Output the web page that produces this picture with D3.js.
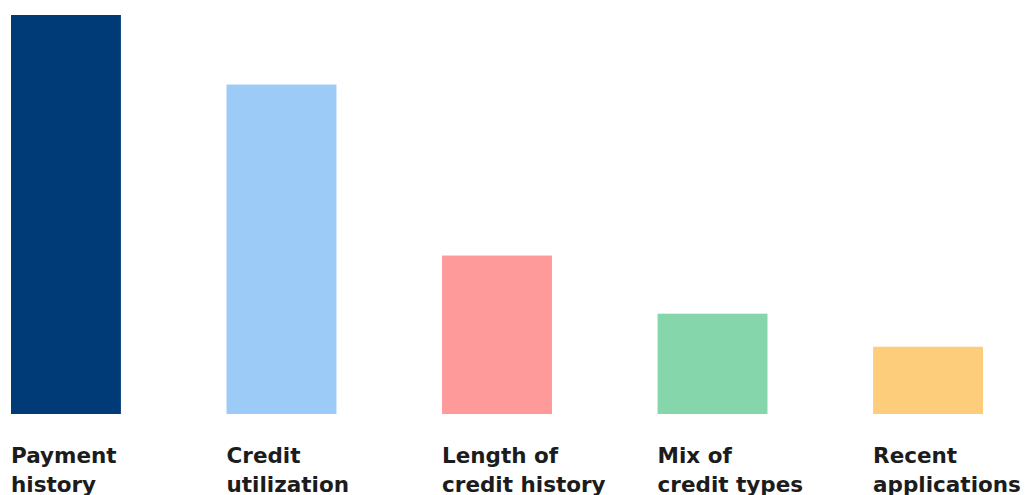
<!DOCTYPE html>
<html>
<head>
<meta charset="utf-8">
<script src="https://cdn.jsdelivr.net/npm/d3@7"></script>
<style>
  html, body { margin: 0; padding: 0; background: #fff; }
  svg { display: block; }
</style>
</head>
<body>
<div id="chart"></div>
<script>
var categories = ['Payment history', 'Credit utilization', 'Length of credit history', 'Mix of credit types', 'Recent applications'];
var labelLines = [['Payment', 'history'], ['Credit', 'utilization'], ['Length of', 'credit history'], ['Mix of', 'credit types'], ['Recent', 'applications']];
var values = [35, 28.9, 13.9, 8.8, 5.9];
var colors = ['#003b77', '#9dcbf8', '#fe9a9a', '#85d6ab', '#fdcd7c'];

var svgWidth = 1026;
var svgHeight = 495;

var svg = d3.select('#chart').append('svg')
    .attr('width', svgWidth)
    .attr('height', svgHeight);

var x = d3.scaleBand()
    .domain(categories)
    .range([11, 983])
    .paddingInner(0.49)
    .paddingOuter(0);

var y = d3.scaleLinear()
    .domain([0, 35])
    .range([414, 15]);

// bars
svg.selectAll('rect.bar')
   .data(values)
   .enter()
   .append('rect')
   .attr('class', 'bar')
   .attr('x', function (d, i) { return x(categories[i]); })
   .attr('y', function (d) { return y(d); })
   .attr('width', x.bandwidth())
   .attr('height', function (d) { return y(0) - y(d); })
   .attr('fill', function (d, i) { return colors[i]; });

// two-line labels under each bar (second line runs off the bottom, as in the source)
var labels = svg.selectAll('text.label')
   .data(labelLines)
   .enter()
   .append('text')
   .attr('class', 'label')
   .attr('x', function (d, i) { return x(categories[i]); })
   .attr('y', 463)
   .attr('font-family', 'DejaVu Sans, sans-serif')
   .attr('font-weight', 'bold')
   .attr('font-size', 21.5)
   .attr('fill', '#1c1c1c');

labels.selectAll('tspan')
   .data(function (d) { return d; })
   .enter()
   .append('tspan')
   .attr('x', function () { return d3.select(this.parentNode).attr('x'); })
   .attr('dy', function (d, i) { return i === 0 ? 0 : 29; })
   .text(function (d) { return d; });
</script>
</body>
</html>
